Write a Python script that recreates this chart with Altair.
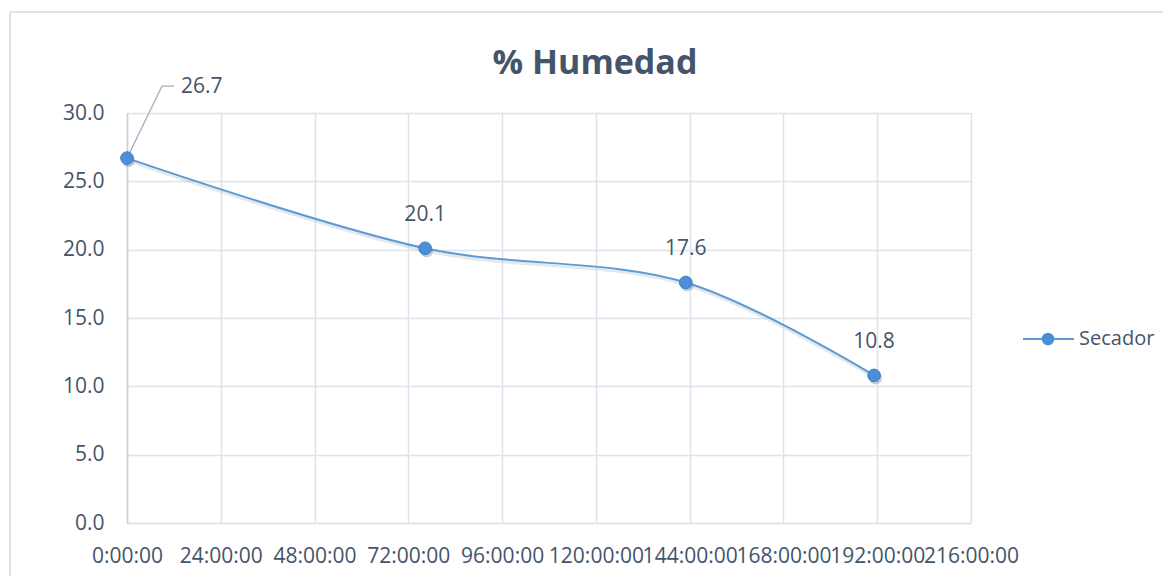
import altair as alt
import pandas as pd

title_text = "% Humedad"
hours = [0, 76.3, 143, 191.2]
humedad = [26.7, 20.1, 17.6, 10.8]
labels = ["26.7", "20.1", "17.6", "10.8"]
series = "Secador"
x_ticks = [0, 24, 48, 72, 96, 120, 144, 168, 192, 216]
y_ticks = [0, 5, 10, 15, 20, 25, 30]

df = pd.DataFrame({"h": hours, "v": humedad, "lab": labels})
first = df.iloc[:1]
rest = df.iloc[1:]
one = pd.DataFrame({"k": [series], "t": [title_text]})

BLUE_LINE = "#5b9bd5"
BLUE_PT = "#4a8fd8"
TXT = "#44546a"
GRID = "#dde3ea"
FONT = "Open Sans"

x = alt.X("h:Q", scale=alt.Scale(domain=[0, 216], nice=False, zero=True),
          axis=alt.Axis(values=x_ticks, title=None, grid=True, gridColor=GRID, gridWidth=1.5,
                        domain=True, domainColor=GRID, domainWidth=1.5, ticks=False,
                        labelExpr="format(datum.value,'d') + ':00:00'",
                        labelFont=FONT, labelFontSize=21, labelColor=TXT, labelPadding=22,
                        labelOverlap=False, labelBound=False, labelFlush=False))
y = alt.Y("v:Q", scale=alt.Scale(domain=[0, 30], nice=False),
          axis=alt.Axis(values=y_ticks, title=None, grid=True, gridColor=GRID, gridWidth=1.5,
                        domain=True, domainColor="#c8d0da", domainWidth=1.5, ticks=False,
                        format=".1f", labelFont=FONT, labelFontSize=21, labelColor=TXT,
                        labelPadding=23))

base = alt.Chart(df)

shadow_line = base.mark_line(interpolate="catmull-rom", color="#9aa4ae", strokeWidth=3,
                             opacity=0.25, yOffset=2.5, xOffset=0.5).encode(x=x, y=y)
line = base.mark_line(interpolate="catmull-rom", color=BLUE_LINE, strokeWidth=2).encode(x=x, y=y)
shadow_pts = base.mark_circle(size=170, color="#6b7580", opacity=0.35, yOffset=2.5,
                              xOffset=1.5).encode(x=x, y=y)
pts = base.mark_circle(size=160, color=BLUE_PT, opacity=1, stroke="#3f80c8",
                       strokeWidth=1).encode(x=x, y=y)

lab_rest = alt.Chart(rest).mark_text(font=FONT, fontSize=21, color=TXT, dy=-33).encode(
    x=x, y=y, text="lab:N")
lab_first = alt.Chart(first).mark_text(font=FONT, fontSize=21, color=TXT, align="left",
                                       dx=54, dy=-71).encode(x=x, y=y, text="lab:N")
leader1 = alt.Chart(first).mark_rule(color="#a8b2be", strokeWidth=1.3, x2Offset=35,
                                     y2Offset=-72).encode(
    x=x, y=y, x2="h:Q", y2="v:Q")
leader2 = alt.Chart(first).mark_rule(color="#a8b2be", strokeWidth=1.3, xOffset=35,
                                     yOffset=-72, x2Offset=47, y2Offset=-72).encode(
    x=x, y=y, x2="h:Q", y2="v:Q")

border_top = alt.Chart(one).mark_rule(color="#dde3ea", strokeWidth=2).encode(
    x=alt.value(-117), x2=alt.value(1100), y=alt.value(-101))
border_left = alt.Chart(one).mark_rule(color="#dde3ea", strokeWidth=2).encode(
    x=alt.value(-117), y=alt.value(-101), y2=alt.value(520))

title = alt.Chart(one).mark_text(font=FONT, fontSize=34, fontWeight="bold", color=TXT,
                                 align="center", baseline="alphabetic").encode(
    x=alt.value(468), y=alt.value(-39), text="t:N")

leg_line = alt.Chart(one).mark_rule(color=BLUE_LINE, strokeWidth=2).encode(
    x=alt.value(896), x2=alt.value(947), y=alt.value(226))
leg_pt = alt.Chart(one).mark_point(filled=True, size=160, color=BLUE_PT, opacity=1).encode(
    x=alt.value(921), y=alt.value(226))
leg_txt = alt.Chart(one).mark_text(font=FONT, fontSize=20, color=TXT, align="left",
                                   baseline="middle").encode(
    x=alt.value(952), y=alt.value(226), text="k:N")

chart = alt.layer(
    border_top, border_left, title, shadow_line, line, leader1, leader2, shadow_pts, pts,
    lab_rest, lab_first, leg_line, leg_pt, leg_txt
).properties(
    width=844, height=410,
    autosize=alt.AutoSizeParams(type="none"),
    padding={"left": 119, "top": 105, "right": 192, "bottom": 53},
).configure_view(stroke=None).configure(background="white")

chart.save("out.html", embed_options={"renderer": "svg", "actions": False})
